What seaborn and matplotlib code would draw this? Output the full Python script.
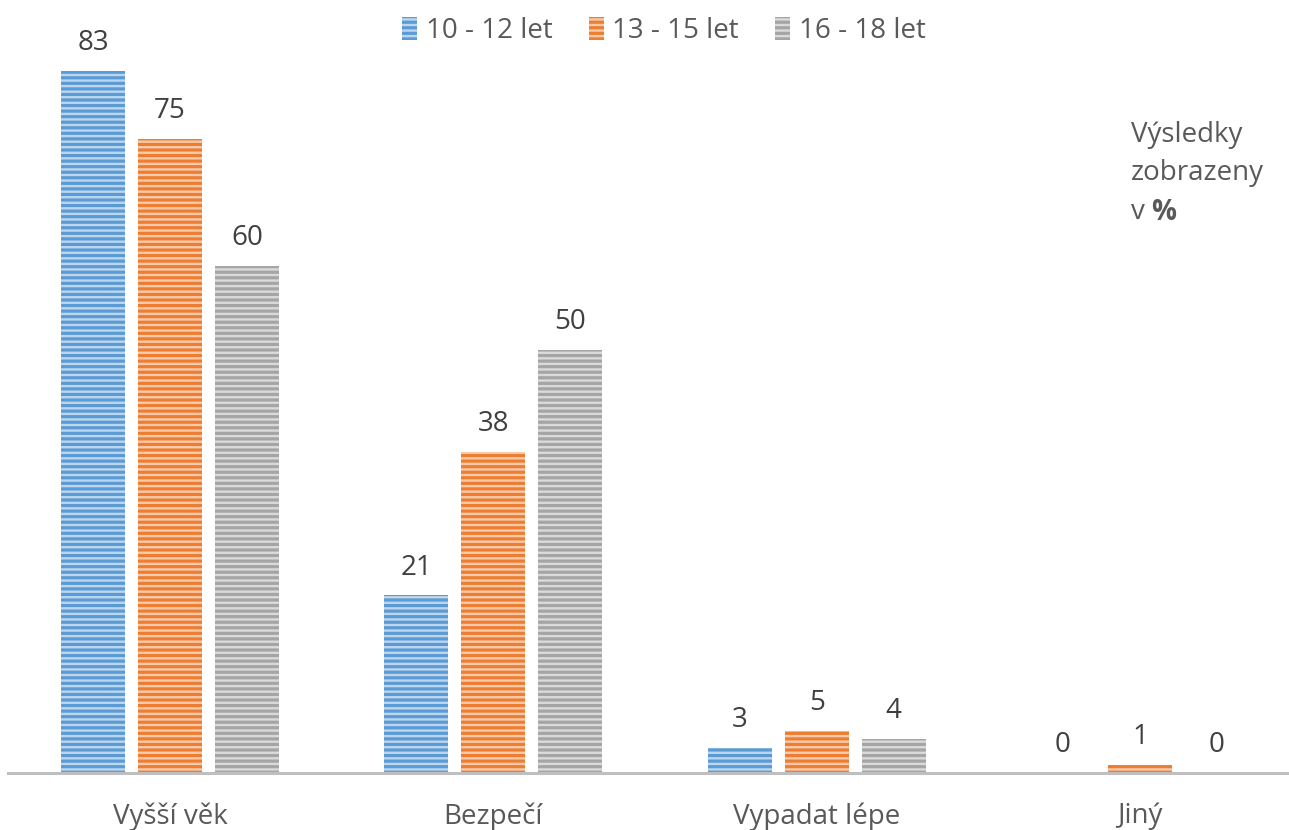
import pandas as pd
import matplotlib.pyplot as plt
import seaborn as sns
from matplotlib.patches import Patch

# Data (values in %)
categories = ['Vyšší věk', 'Bezpečí', 'Vypadat lépe', 'Jiný']
age_groups = ['10 - 12 let', '13 - 15 let', '16 - 18 let']
values_10_12 = [83, 21, 3, 0]
values_13_15 = [75, 38, 5, 1]
values_16_18 = [60, 50, 4, 0]
colors = ['#5b9bd5', '#ed7d31', '#a5a5a5']

df = pd.DataFrame({
    'kategorie': categories * 3,
    'skupina': [age_groups[0]] * 4 + [age_groups[1]] * 4 + [age_groups[2]] * 4,
    'hodnota': values_10_12 + values_13_15 + values_16_18,
})

sns.set_style('white')
plt.rcParams['font.family'] = ['Open Sans', 'DejaVu Sans']
plt.rcParams['hatch.linewidth'] = 1.7

fig = plt.figure(figsize=(12.89, 8.30), dpi=100)
ax = fig.add_axes([8 / 1289, 57 / 830, 1281 / 1289, 761 / 830])

sns.barplot(data=df, x='kategorie', y='hodnota', hue='skupina', order=categories,
            hue_order=age_groups, palette=colors, width=0.714, gap=0.17,
            saturation=1, legend=False, ax=ax)

# striped fill like the original
for cont in ax.containers:
    for bar in cont:
        bar.set_hatch('---')
        bar.set_edgecolor((1, 1, 1, 0.6))
        bar.set_linewidth(0)
    ax.bar_label(cont, fmt='%d', padding=10, fontsize=20, color='#404040')

ax.set_ylim(0, 90)
ax.set_xlim(-0.501, 3.461)
ax.set_xlabel('')
ax.set_ylabel('')
ax.set_yticks([])
ax.tick_params(axis='x', length=0, pad=21, labelsize=20, labelcolor='#595959')
for s in ['top', 'right', 'left']:
    ax.spines[s].set_visible(False)
ax.spines['bottom'].set_color('#bfbfbf')
ax.spines['bottom'].set_linewidth(2.2)

handles = [Patch(facecolor=c, edgecolor=(1, 1, 1, 0.6), linewidth=0, hatch='---', label=g)
           for c, g in zip(colors, age_groups)]
leg = fig.legend(handles=handles, loc='upper center', bbox_to_anchor=(0.515, 1.01), ncol=3,
                 frameon=False, fontsize=20, handlelength=0.55, handleheight=0.9,
                 handletextpad=0.3, columnspacing=1.3)
for t in leg.get_texts():
    t.set_color('#595959')

# note on the right
note_x = 1131 / 1289
for y_px, line in [(135, 'Výsledky'), (173, 'zobrazeny'), (212, 'v')]:
    fig.text(note_x, 1 - y_px / 830, line, fontsize=20, color='#595959', va='center')
fig.text(1151 / 1289, 1 - 212 / 830, '%', fontsize=20, color='#595959',
         fontweight='bold', va='center')

fig.savefig('out.png', dpi=100)
